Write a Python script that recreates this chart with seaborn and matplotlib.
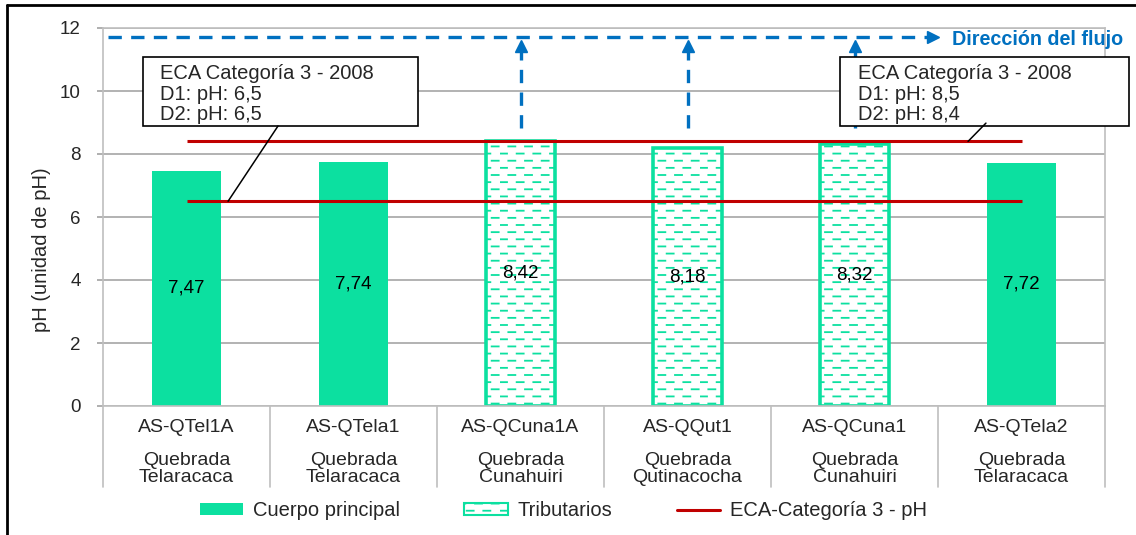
import matplotlib
matplotlib.use("Agg")
import matplotlib.pyplot as plt
import seaborn as sns
import numpy as np
from matplotlib import hatch as mhatch
from matplotlib.path import Path
from matplotlib.patches import Patch, Rectangle
from matplotlib.lines import Line2D

# datos
estaciones = ["AS-QTel1A", "AS-QTela1", "AS-QCuna1A", "AS-QQut1", "AS-QCuna1", "AS-QTela2"]
quebradas = ["Quebrada\nTelaracaca", "Quebrada\nTelaracaca", "Quebrada\nCunahuiri",
             "Quebrada\nQutinacocha", "Quebrada\nCunahuiri", "Quebrada\nTelaracaca"]
ph = [7.47, 7.74, 8.42, 8.18, 8.32, 7.72]
tributario = [False, False, True, True, True, False]
eca_min = 6.5
eca_max = 8.4
flujo_x = [2, 3, 4]  # flechas verticales sobre los tributarios

GREEN = "#0CE0A0"
RED = "#C00000"
BLUE = "#0070C0"
GRID = "#A6A6A6"


# trama de guiones cortos (como en Excel)
class DashedHorizontalHatch(mhatch.HatchPatternBase):
    def __init__(self, hatch, density):
        n = hatch.count('-') + hatch.count('+')
        self.num_lines = 14 if n else 0
        self.per_row = 6
        self.num_vertices = self.num_lines * self.per_row * 2

    def set_vertices_and_codes(self, vertices, codes):
        step = 1.0 / self.num_lines
        dash = 0.07
        k = 0
        for i in range(self.num_lines):
            y = (i + 0.5) * step
            shift = 0.0 if i % 2 == 0 else 0.5 / self.per_row
            for j in range(self.per_row):
                x0 = j / self.per_row + shift
                vertices[k] = (x0, y)
                vertices[k + 1] = (x0 + dash, y)
                codes[k] = Path.MOVETO
                codes[k + 1] = Path.LINETO
                k += 2


mhatch._hatch_types[0] = DashedHorizontalHatch

sns.set_theme(style="white")
plt.rcParams['font.family'] = ['Liberation Sans', 'DejaVu Sans']
plt.rcParams['hatch.linewidth'] = 1.3
plt.rcParams['hatch.color'] = GREEN

W, H = 1136, 535
fig = plt.figure(figsize=(W / 100, H / 100), dpi=100)
ax = fig.add_axes([103 / W, 1 - 406 / H, (1105 - 103) / W, (406 - 28) / H])

sns.barplot(x=estaciones, y=ph, color=GREEN, saturation=1, width=0.41, ax=ax, zorder=2)
for p, trib in zip(ax.patches, tributario):
    if trib:
        p.set_facecolor("white")
        p.set_edgecolor(GREEN)
        p.set_linewidth(2.6)
        p.set_hatch("--")
    else:
        p.set_edgecolor("none")

ax.bar_label(ax.containers[0], labels=[f"{v:.2f}".replace(".", ",") for v in ph],
             label_type="center", fontsize=13.5, color="black")

# líneas ECA
ax.hlines([eca_min, eca_max], 0, len(estaciones) - 1, colors=RED, linewidth=2.2, zorder=4)

ax.set_xlim(-0.5, len(estaciones) - 0.5)
ax.set_ylim(0, 12)
ax.set_yticks(np.arange(0, 13, 2))
ax.yaxis.grid(True, color=GRID, linewidth=1.2)
ax.set_axisbelow(True)
for s in ax.spines.values():
    s.set_color("#BFBFBF")
    s.set_linewidth(1.2)
ax.tick_params(axis="y", length=4, pad=12, labelsize=13.5, color=GRID, left=True)
ax.tick_params(axis="x", length=0, labelbottom=False)
ax.set_xlabel("")
ax.set_ylabel("")
fig.text(42 / W, 1 - 250 / H, "pH (unidad de pH)", rotation=90, fontsize=14.5,
         ha="center", va="center")

# etiquetas de categorías en dos niveles
trans = ax.get_xaxis_transform()
for i, (est, qb) in enumerate(zip(estaciones, quebradas)):
    ax.text(i, -0.058, est, transform=trans, ha="center", va="center", fontsize=14)
    ax.text(i, -0.166, qb, transform=trans, ha="center", va="center", fontsize=14,
            linespacing=1.0)
for xs in np.arange(-0.5, len(estaciones), 1.0):
    ax.plot([xs, xs], [0, -0.214], transform=trans, color="#BFBFBF", lw=1.2, clip_on=False)

# dirección del flujo
ax.plot([-0.47, 4.44], [11.71, 11.71], color=BLUE, lw=2.4, ls=(0, (4, 2.8)), zorder=5, clip_on=False)
ax.plot([4.47], [11.71], marker=">", color=BLUE, markersize=9, zorder=5, clip_on=False)
for xv in flujo_x:
    ax.plot([xv, xv], [8.83, 11.3], color=BLUE, lw=2.4, ls=(0, (4, 2.8)), zorder=5)
    ax.plot([xv], [11.43], marker="^", color=BLUE, markersize=9, zorder=5)
ax.text(4.584, 11.64, "Dirección del flujo", color=BLUE, fontsize=14.2, fontweight="bold",
        ha="left", va="center", clip_on=False)

# cuadros de anotación ECA
boxes = [
    (-0.2605, 1.386, -0.159, "ECA Categoría 3 - 2008\nD1: pH: 6,5\nD2: pH: 6,5", (0.548, 8.889), (0.249, eca_min)),
    (3.913, 5.644, 4.021, "ECA Categoría 3 - 2008\nD1: pH: 8,5\nD2: pH: 8,4", (4.787, 8.98), (4.68, eca_max)),
]
for x0, x1, xt, txt, p0, p1 in boxes:
    ax.add_patch(Rectangle((x0, 8.889), x1 - x0, 11.08 - 8.889, facecolor="white",
                           edgecolor="black", lw=1.2, zorder=6, clip_on=False))
    ax.text(xt, 9.9, txt, fontsize=14.5, ha="left", va="center", linespacing=1.12,
            zorder=7, clip_on=False)
    ax.plot([p0[0], p1[0]], [p0[1], p1[1]], color="black", lw=1.1, zorder=6, clip_on=False)

# leyenda
handles = [
    Patch(facecolor=GREEN, edgecolor="none", label="Cuerpo principal"),
    Patch(facecolor="white", edgecolor=GREEN, hatch="--", linewidth=1.5, label="Tributarios"),
    Line2D([0], [0], color=RED, lw=2.2, label="ECA-Categoría 3 - pH"),
]
fig.legend(handles=handles, loc="center", bbox_to_anchor=(0.496, 1 - 511 / H), ncol=3,
           frameon=False, fontsize=14.5, handlelength=2.15, handleheight=0.55,
           handletextpad=0.5, columnspacing=3.2)

# marco exterior
fig.add_artist(Line2D([7 / W, 7 / W], [0, 1 - 5 / H], transform=fig.transFigure, color="black", lw=2))
fig.add_artist(Line2D([7 / W, 1], [1 - 5 / H, 1 - 5 / H], transform=fig.transFigure, color="black", lw=2))

fig.savefig("out.png", dpi=100)
